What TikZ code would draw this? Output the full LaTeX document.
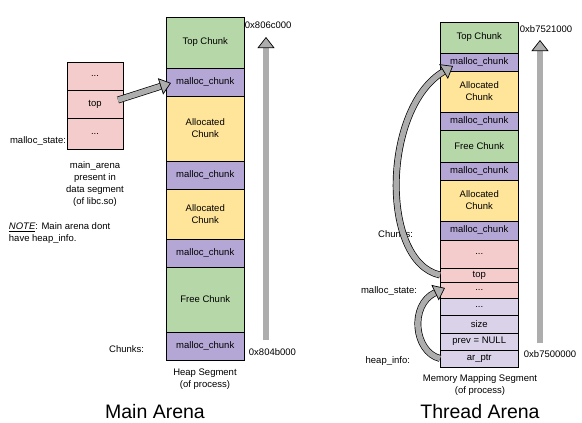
\documentclass[tikz,border=0pt]{standalone}
\usepackage{fontspec}
\setmainfont{Liberation Sans}
\usetikzlibrary{arrows.meta}
\definecolor{chunkgreen}{HTML}{B6D7A8}
\definecolor{chunkpurple}{HTML}{B4A7D6}
\definecolor{chunkyellow}{HTML}{FFE599}
\definecolor{statepink}{HTML}{F4CCCC}
\definecolor{infolilac}{HTML}{D9D2E9}
\definecolor{arrowgray}{HTML}{ADADAD}

\begin{document}
\begin{tikzpicture}[x=1pt,y=1pt,yscale=-1,xscale=1,font=\fontsize{9.5}{12}\selectfont,
  cell/.style={draw, line width=0.8pt, minimum width=78.5pt, inner sep=0pt, outer sep=0pt, anchor=north west, align=center},
  statecell/.style={cell, fill=statepink, minimum width=56pt},
  fatarrow/.style={double=arrowgray, double distance=5.5pt, line width=0.7pt, -{Triangle[length=11pt,width=17pt,line width=0.7pt,fill=arrowgray]}}]
\useasboundingbox (0,0) rectangle (582,423);

%Shape: Rectangle [main arena heap]
\node [cell, fill=chunkgreen, minimum height=51pt] (mtop) at (166,17) {Top Chunk};
\node [cell, fill=chunkpurple, minimum height=28pt] (mmc1) at (166,68) {malloc\_chunk};
\node [cell, fill=chunkyellow, minimum height=65pt] (malloc1) at (166,96) {Allocated\\Chunk};
\node [cell, fill=chunkpurple, minimum height=28pt] (mmc2) at (166,161) {malloc\_chunk};
\node [cell, fill=chunkyellow, minimum height=50pt] (malloc2) at (166,189) {Allocated\\Chunk};
\node [cell, fill=chunkpurple, minimum height=28pt] (mmc3) at (166,239) {malloc\_chunk};
\node [cell, fill=chunkgreen, minimum height=65pt] (mfree) at (166,267) {Free Chunk};
\node [cell, fill=chunkpurple, minimum height=28pt] (mmc4) at (166,332) {malloc\_chunk};

%Shape: Rectangle [main_arena malloc_state]
\node [statecell, minimum height=28pt] (sdots1) at (67,62) {...};
\node [statecell, minimum height=28pt] (stop) at (67,90) {top};
\node [statecell, minimum height=31pt] (sdots2) at (67,118) {...};

%Shape: Rectangle [thread arena mmap segment]
\node [cell, fill=chunkgreen, minimum height=31pt] (ttop) at (440,22) {Top Chunk};
\node [cell, fill=chunkpurple, minimum height=18pt] (tmc1) at (440,53) {malloc\_chunk};
\node [cell, fill=chunkyellow, minimum height=41pt] (talloc1) at (440,71) {Allocated\\Chunk};
\node [cell, fill=chunkpurple, minimum height=18pt] (tmc2) at (440,112) {malloc\_chunk};
\node [cell, fill=chunkgreen, minimum height=32pt] (tfree) at (440,130) {Free Chunk};
\node [cell, fill=chunkpurple, minimum height=18pt] (tmc3) at (440,162) {malloc\_chunk};
\node [cell, fill=chunkyellow, minimum height=41pt] (talloc2) at (440,180) {Allocated\\Chunk};
\node [cell, fill=chunkpurple, minimum height=19pt] (tmc4) at (440,221) {malloc\_chunk};
\node [cell, fill=statepink, minimum height=28pt] (tsdots1) at (440,240) {...};
\node [cell, fill=statepink, minimum height=14pt] (tstop) at (440,268) {top};
\node [cell, fill=statepink, minimum height=16pt] (tsdots2) at (440,282) {...};
\node [cell, fill=infolilac, minimum height=17pt] (thdots) at (440,298) {...};
\node [cell, fill=infolilac, minimum height=18pt] (thsize) at (440,315) {size};
\node [cell, fill=infolilac, minimum height=17pt] (thprev) at (440,333) {prev = NULL};
\node [cell, fill=infolilac, minimum height=17pt] (tharptr) at (440,350) {ar\_ptr};

% Text Node
\node [anchor=east, inner sep=0.75pt] (mstatelbl) at (67,141) {malloc\_state:};
% Text Node
\node [align=center, inner sep=0.75pt] (marenalbl) at (95,184) {main\_arena\\present in\\data segment\\(of libc.so)};
% Text Node
\node [anchor=west, align=left, inner sep=0.75pt] (notelbl) at (8,233) {\underline{\textit{NOTE}}: Main arena dont\\have heap\_info.};
% Text Node
\node [anchor=east, inner sep=0.75pt] (mchunkslbl) at (145,349) {Chunks:};
% Text Node
\node [anchor=west, inner sep=0.75pt] (mhigh) at (244,25) {0x806c000};
% Text Node
\node [anchor=west, inner sep=0.75pt] (mlow) at (248,352) {0x804b000};
% Text Node
\node [align=center, inner sep=0.75pt] (mseglbl) at (205,379) {Heap Segment\\(of process)};
% Text Node
\node [inner sep=0.75pt, font=\fontsize{19.5}{22}\selectfont] (mainlbl) at (155,412) {Main Arena};

% Text Node
\node [anchor=east, inner sep=0.75pt] (tchunkslbl) at (414,234) {Chunks:};
% Text Node
\node [anchor=east, inner sep=0.75pt] (tstatelbl) at (418,291) {malloc\_state:};
% Text Node
\node [anchor=east, inner sep=0.75pt] (tinfolbl) at (411,361) {heap\_info:};
% Text Node
\node [anchor=west, inner sep=0.75pt] (thigh) at (519,29) {0xb7521000};
% Text Node
\node [anchor=west, inner sep=0.75pt] (tlow) at (523,354) {0xb7500000};
% Text Node
\node [align=center, inner sep=0.75pt] (tseglbl) at (480,385) {Memory Mapping Segment\\(of process)};
% Text Node
\node [inner sep=0.75pt, font=\fontsize{19.5}{22}\selectfont] (threadlbl) at (480,412) {Thread Arena};

%Block Arrows
\coordinate (mlowend) at (266,340);
\coordinate (mhighend) at (266,37);
\coordinate (tlowend) at (540,343);
\coordinate (thighend) at (540,40);
\draw [fatarrow] (mlowend) -- (mhighend);
\draw [fatarrow] (tlowend) -- (thighend);
\draw [fatarrow] ([xshift=-5pt,yshift=-4pt]stop.east) -- ([xshift=5pt,yshift=1pt]mmc1.west);
\draw [fatarrow] (tstop.west) .. controls (380,262) and (382,108) .. ([xshift=13pt,yshift=4pt]tmc1.west);
\draw [fatarrow] (tharptr.west) .. controls (414,352) and (409,305) .. ([xshift=5pt,yshift=-2pt]tsdots2.west);
\end{tikzpicture}
\end{document}
